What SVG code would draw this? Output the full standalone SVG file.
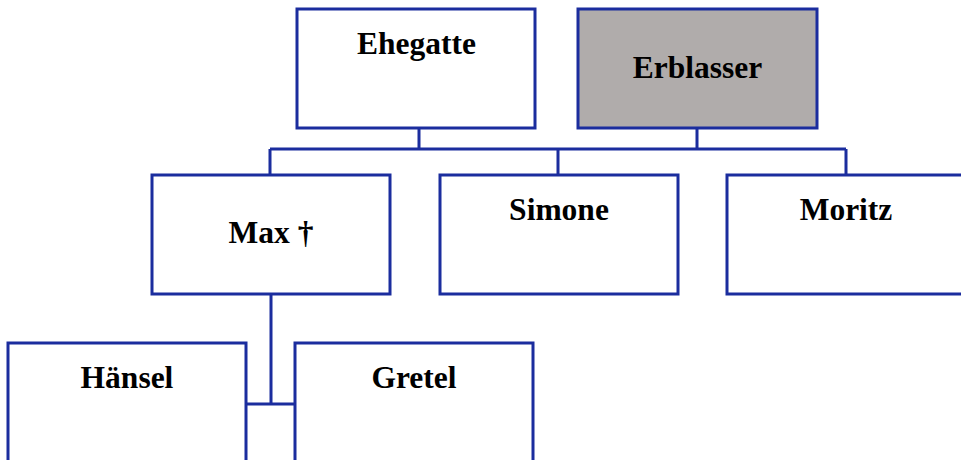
<svg xmlns="http://www.w3.org/2000/svg" width="961" height="460" viewBox="0 0 961 460">
<style>
.box{fill:#ffffff;stroke:#1b2d9e;stroke-width:3}
.dead{fill:#b0acab}
.lbl{font-family:"Liberation Serif","Times New Roman",serif;font-weight:bold;font-size:31.5px;fill:#000;text-anchor:middle}
.con{fill:none;stroke:#1b2d9e;stroke-width:3}
</style>
<rect width="961" height="460" fill="#ffffff"/>
<g id="connectors">
<path class="con" d="M419 128V149M697 128V149M270 149H846M270 149V175M558 149V175M846 149V175"/>
<path class="con" d="M271 294V404M246 404H295"/>
</g>
<g id="ehegatte"><rect class="box" x="297" y="9" width="238" height="119"/><text class="lbl" x="416.5" y="54">Ehegatte</text></g>
<g id="erblasser"><rect class="box dead" x="578" y="9" width="239" height="119"/><text class="lbl" x="697.5" y="78">Erblasser</text></g>
<g id="max"><rect class="box" x="152" y="175" width="238" height="119"/><text class="lbl" x="271" y="243">Max †</text></g>
<g id="simone"><rect class="box" x="440" y="175" width="238" height="119"/><text class="lbl" x="559" y="220">Simone</text></g>
<g id="moritz"><rect class="box" x="727" y="175" width="238" height="119"/><text class="lbl" x="846" y="220">Moritz</text></g>
<g id="haensel"><rect class="box" x="8" y="343" width="238" height="122"/><text class="lbl" x="127" y="388">Hänsel</text></g>
<g id="gretel"><rect class="box" x="295" y="343" width="238" height="122"/><text class="lbl" x="414" y="388">Gretel</text></g>
</svg>
